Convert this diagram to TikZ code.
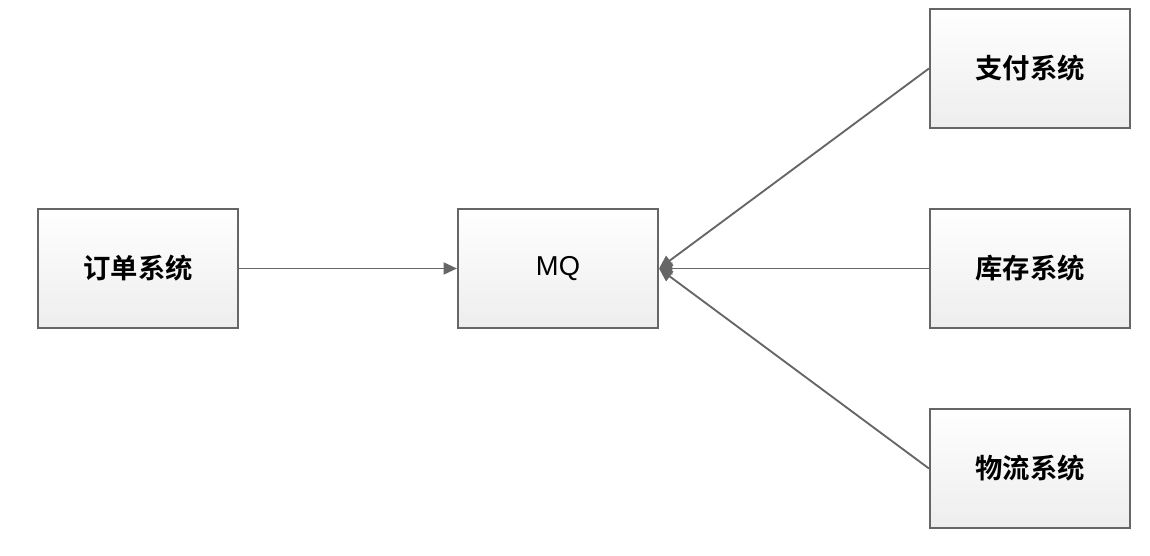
\documentclass[tikz,border=0pt]{standalone}
\usepackage{fontspec}
\setmainfont{Liberation Sans}
\newfontfamily\cjk{Noto Sans CJK SC}[BoldFont={Noto Sans CJK SC Bold}]
\usetikzlibrary{arrows.meta,shadings}
\definecolor{edge}{HTML}{666666}
\definecolor{boxbot}{HTML}{EDEDED}
\tikzset{
  sysbox/.style={draw=edge, line width=1.6pt, top color=white, bottom color=boxbot,
    minimum width=150pt, minimum height=89pt, inner sep=0pt, font=\cjk\bfseries\fontsize{20.5}{24}\selectfont},
  conn/.style={draw=edge, line width=1.4pt, -{Triangle[length=10pt,width=9pt]}}
}
\begin{document}
\begin{tikzpicture}[x=0.75pt,y=-0.75pt]
\useasboundingbox (0,0) rectangle (1150,556);
\node[sysbox] (order) at (138,268.5) {订单系统};
\node[sysbox, font=\fontsize{20.5}{24}\selectfont] (mq) at (558,268.5) {MQ};
\node[sysbox] (pay) at (1030,68.5) {支付系统};
\node[sysbox] (stock) at (1030,268.5) {库存系统};
\node[sysbox] (logi) at (1030,468.5) {物流系统};
\draw[conn] (order.east) -- (mq.west);
\draw[conn] (pay.west) -- (mq.east);
\draw[conn] (stock.west) -- (mq.east);
\draw[conn] (logi.west) -- (mq.east);
\end{tikzpicture}
\end{document}
